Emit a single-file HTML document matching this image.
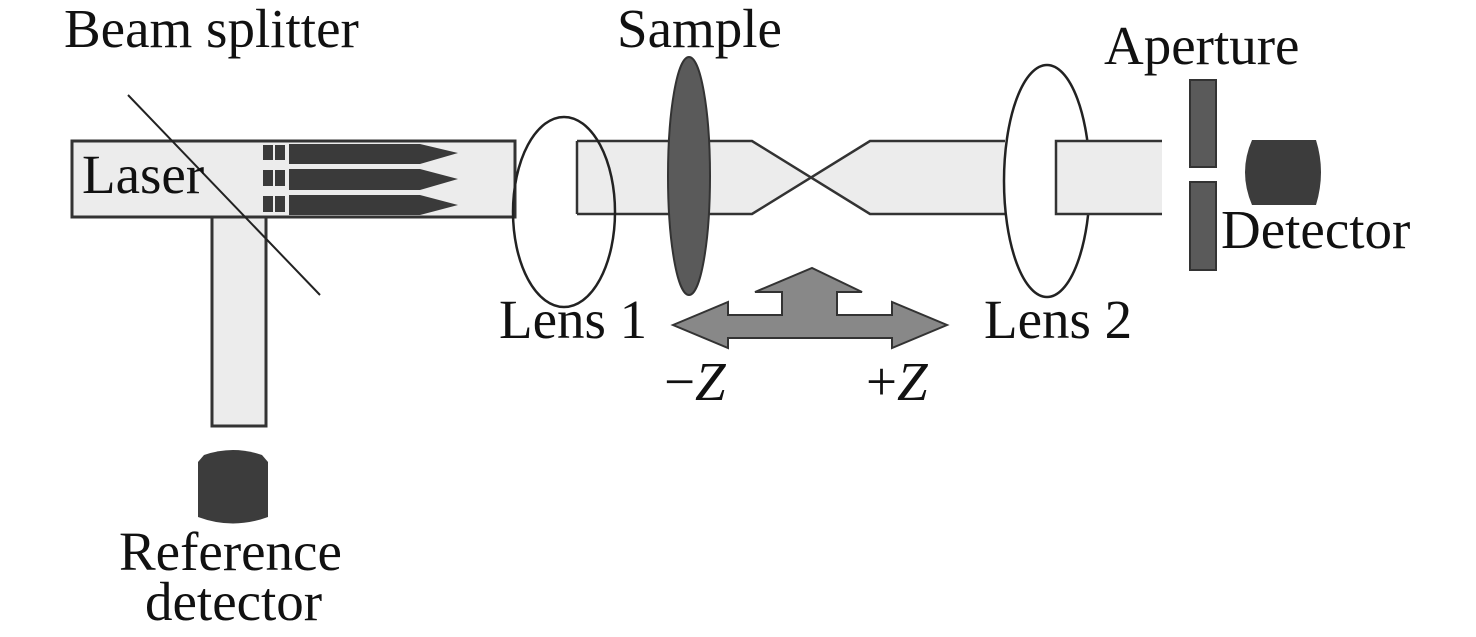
<!DOCTYPE html>
<html><head><meta charset="utf-8"><style>
html,body{margin:0;padding:0;background:#fff;}
svg{display:block;}
text{font-family:"Liberation Serif",serif;font-size:55px;fill:#111;}
</style></head><body>
<svg width="1476" height="637" viewBox="0 0 1476 637" xmlns="http://www.w3.org/2000/svg">
<rect x="72" y="141" width="443" height="76" fill="#ececec" stroke="#333" stroke-width="3"/>
<rect x="212" y="217" width="54" height="209" fill="#ececec" stroke="#333" stroke-width="3"/>
<g fill="#3a3a3a">
<rect x="263" y="145" width="10" height="15"/><rect x="275" y="145" width="10" height="15"/>
<polygon points="289,144 420,144 458,153 420,164 289,164"/>
<rect x="263" y="170" width="10" height="16"/><rect x="275" y="170" width="10" height="16"/>
<polygon points="289,169 420,169 458,179 420,190 289,190"/>
<rect x="263" y="196" width="10" height="16"/><rect x="275" y="196" width="10" height="16"/>
<polygon points="289,195 420,195 458,205 420,215 289,215"/>
</g>
<line x1="128" y1="95" x2="320" y2="295" stroke="#222" stroke-width="2"/>
<path d="M204,455 Q233,445 262,455 L268,462 L268,517 Q233,530 198,517 L198,462 Z" fill="#3c3c3c"/>
<path d="M577,141 L752,141 L870,214 L577,214 Z" fill="#ececec"/>
<path d="M870,141 L1005,141 L1005,214 L752,214 Z" fill="#ececec"/>
<polygon points="752,141 870,141 812,177" fill="#fff"/>
<polygon points="752,214 870,214 812,177" fill="#fff"/>
<path d="M577,141 L752,141 L870,214 L1005,214 M577,214 L752,214 L870,141 L1005,141 M577,141 L577,214" fill="none" stroke="#333" stroke-width="2.5"/>
<ellipse cx="564" cy="212" rx="51" ry="95" fill="none" stroke="#222" stroke-width="2.5"/>
<ellipse cx="689" cy="176" rx="21" ry="119" fill="#5a5a5a" stroke="#333" stroke-width="2"/>
<ellipse cx="1047" cy="181" rx="43" ry="116" fill="none" stroke="#222" stroke-width="2.5"/>
<rect x="1056" y="141" width="106" height="73" fill="#ececec"/>
<path d="M1162,141 L1056,141 L1056,214 L1162,214" fill="none" stroke="#333" stroke-width="2.5"/>
<rect x="1190" y="80" width="26" height="87" fill="#5a5a5a" stroke="#333" stroke-width="2"/>
<rect x="1190" y="182" width="26" height="88" fill="#5a5a5a" stroke="#333" stroke-width="2"/>
<path d="M1252,140 L1316,140 Q1326,172 1316,205 L1252,205 Q1238,172 1252,140 Z" fill="#3c3c3c"/>
<polygon points="673,325 728,302 728,315 782,315 782,292 755,292 812,268 862,292 837,292 837,315 892,315 892,302 947,325 892,348 892,338 728,338 728,348" fill="#888" stroke="#333" stroke-width="2"/>
<text x="64" y="47">Beam splitter</text>
<text x="617" y="47">Sample</text>
<text x="1104" y="64">Aperture</text>
<text x="82" y="193">Laser</text>
<text x="1221" y="248">Detector</text>
<text x="499" y="338">Lens 1</text>
<text x="984" y="338">Lens 2</text>
<text x="664" y="400">−<tspan font-style="italic">Z</tspan></text>
<text x="866" y="400">+<tspan font-style="italic">Z</tspan></text>
<text x="119" y="570">Reference</text>
<text x="145" y="620">detector</text>
</svg>
</body></html>
